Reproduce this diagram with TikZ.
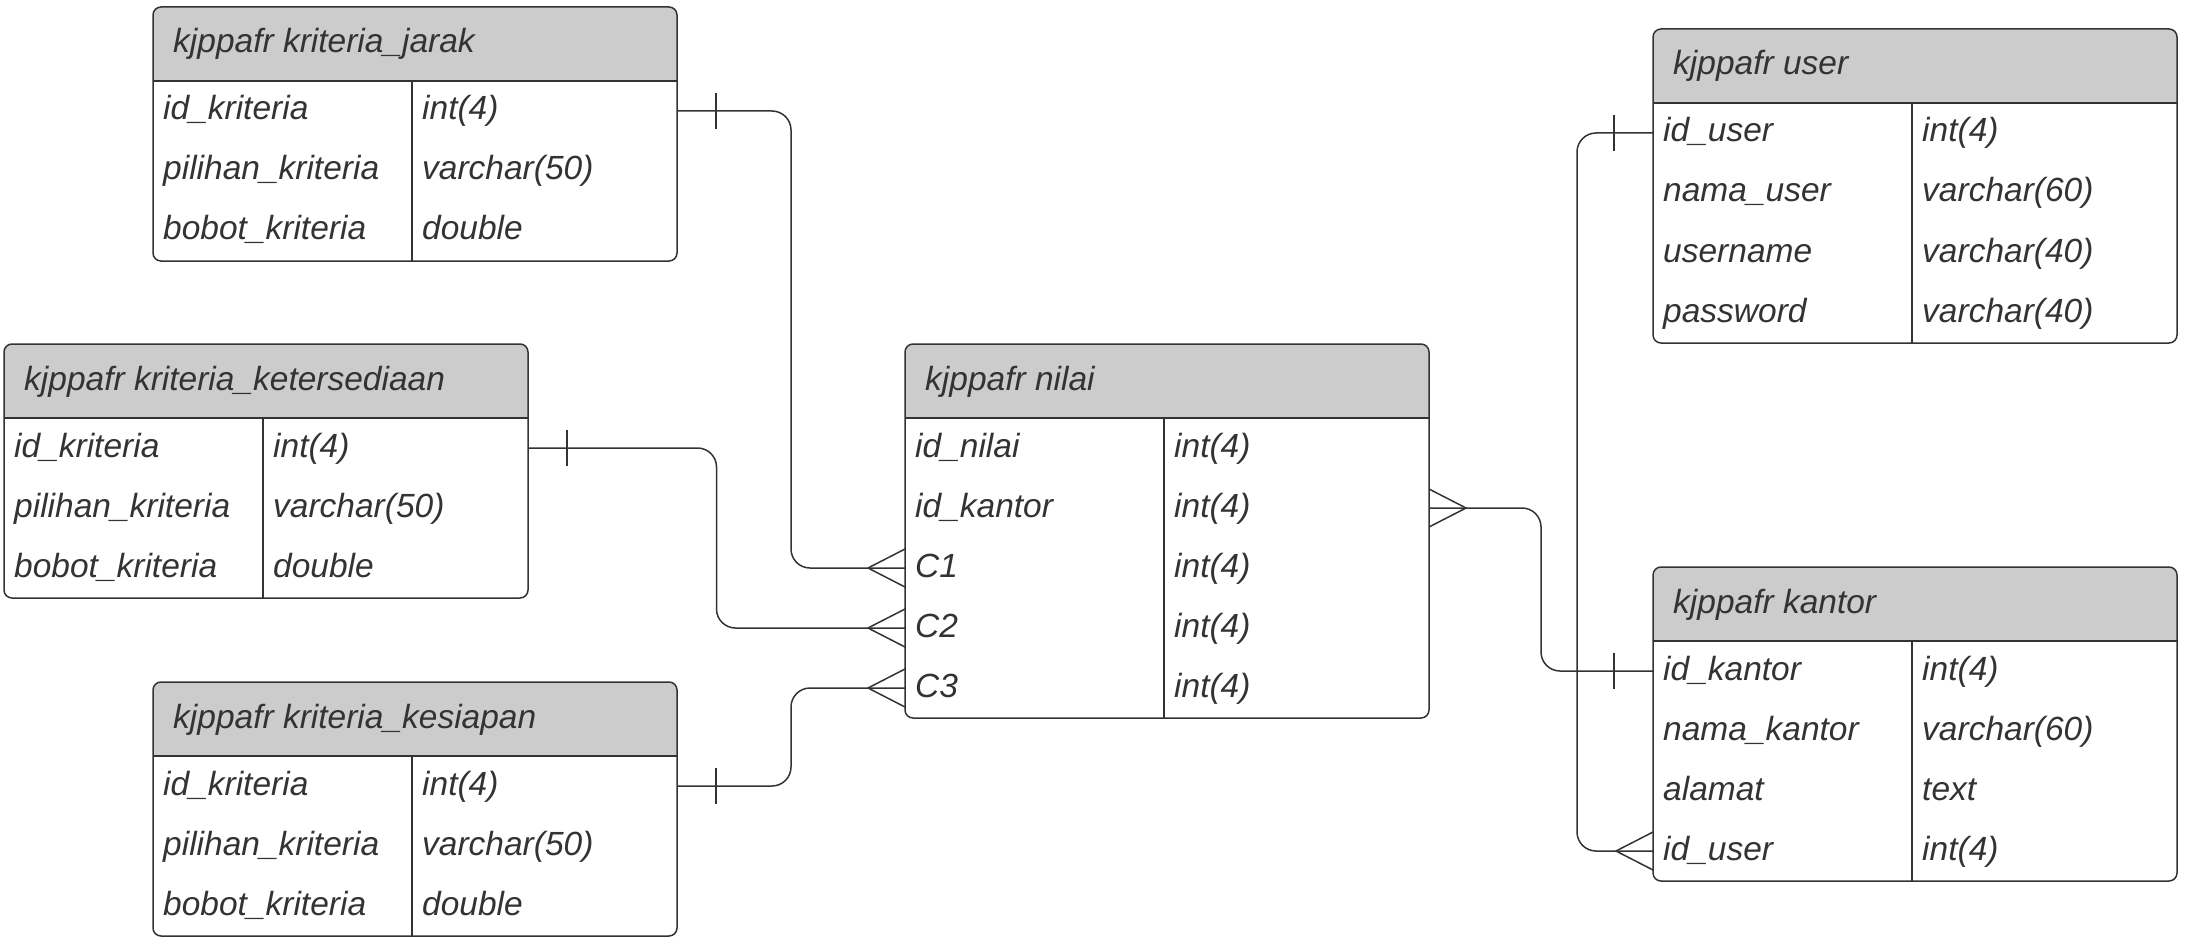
\documentclass[tikz,border=0pt]{standalone}
\usepackage{fontspec}
\setmainfont{Liberation Sans}
\usetikzlibrary{calc}
\definecolor{hdr}{HTML}{CCCCCC}
\definecolor{ink}{HTML}{333333}
\tikzset{
  tframe/.style={draw=ink, line width=1.5pt, line join=round},
  conn/.style={draw=ink, line width=1.5pt, rounded corners=19pt},
  cell/.style={anchor=base west, inner sep=0pt, text=ink, font=\fontsize{33.5}{40}\selectfont\itshape},
}
\newcommand{\erTable}[6]{%
  \pgfmathsetmacro{\tH}{74+60*#5}
  \begin{scope}
    \clip[rounded corners=8pt] (#2,#3) rectangle ++(524,\tH);
    \fill[hdr] (#2,#3) rectangle ++(524,74);
  \end{scope}
  \node[tframe, rounded corners=8pt, anchor=north west, minimum width=524pt, minimum height=\tH pt, inner sep=0pt, outer sep=0pt] (#1) at (#2,#3) {};
  \draw[tframe] (#2,#3+74) -- ++(524,0);
  \draw[tframe] (#2+259,#3+74) -- (#2+259,#3+\tH);
  \node[cell] (#1-title) at (#2+20,#3+46) {kjppafr #4};
  \foreach \fa/\fb [count=\i] in {#6} {
    \coordinate (#1-L\i) at (#2,#3+44+60*\i);
    \coordinate (#1-R\i) at (#2+524,#3+44+60*\i);
    \node[cell] (#1-f\i) at (#2+10,#3+53+60*\i) {\fa};
    \node[cell] (#1-t\i) at (#2+269,#3+53+60*\i) {\fb};
  }
}
\newcommand{\oneTick}[2]{\draw[tframe] ($(#1)+(#2,-18)$) -- ($(#1)+(#2,18)$);}
\newcommand{\crowFoot}[2]{\draw[tframe] ($(#1)+(0,-19)$) -- ($(#1)+(#2,0)$) -- ($(#1)+(0,19)$);}
\begin{document}
\begin{tikzpicture}[x=1pt, y=-1pt]
\useasboundingbox (0,0) rectangle (2186,944);
\erTable{jarak}{153}{7}{kriteria\_jarak}{3}{id\_kriteria/int(4), pilihan\_kriteria/varchar(50), bobot\_kriteria/double}
\erTable{sedia}{4}{344}{kriteria\_ketersediaan}{3}{id\_kriteria/int(4), pilihan\_kriteria/varchar(50), bobot\_kriteria/double}
\erTable{siap}{153}{682}{kriteria\_kesiapan}{3}{id\_kriteria/int(4), pilihan\_kriteria/varchar(50), bobot\_kriteria/double}
\erTable{nilai}{905}{344}{nilai}{5}{id\_nilai/int(4), id\_kantor/int(4), C1/int(4), C2/int(4), C3/int(4)}
\erTable{user}{1653}{29}{user}{4}{id\_user/int(4), nama\_user/varchar(60), username/varchar(40), password/varchar(40)}
\erTable{kantor}{1653}{567}{kantor}{4}{id\_kantor/int(4), nama\_kantor/varchar(60), alamat/text, id\_user/int(4)}
% connectors
\draw[conn] (jarak-R1) -| ($(jarak-R1)!.5!(nilai-L3)$) |- (nilai-L3);
\draw[conn] (sedia-R1) -| ($(sedia-R1)!.5!(nilai-L4)$) |- (nilai-L4);
\draw[conn] (siap-R1) -| ($(siap-R1)!.5!(nilai-L5)$) |- (nilai-L5);
\draw[conn] (nilai-R2) -| ($(nilai-R2)!.5!(kantor-L1)$) |- (kantor-L1);
\draw[conn] (user-L1) -- ++(-76,0) |- (kantor-L4);
% ends
\oneTick{jarak-R1}{39}
\oneTick{sedia-R1}{39}
\oneTick{siap-R1}{39}
\oneTick{kantor-L1}{-39}
\oneTick{user-L1}{-39}
\crowFoot{nilai-L3}{-37}
\crowFoot{nilai-L4}{-37}
\crowFoot{nilai-L5}{-37}
\crowFoot{nilai-R2}{37}
\crowFoot{kantor-L4}{-37}
\end{tikzpicture}
\end{document}
